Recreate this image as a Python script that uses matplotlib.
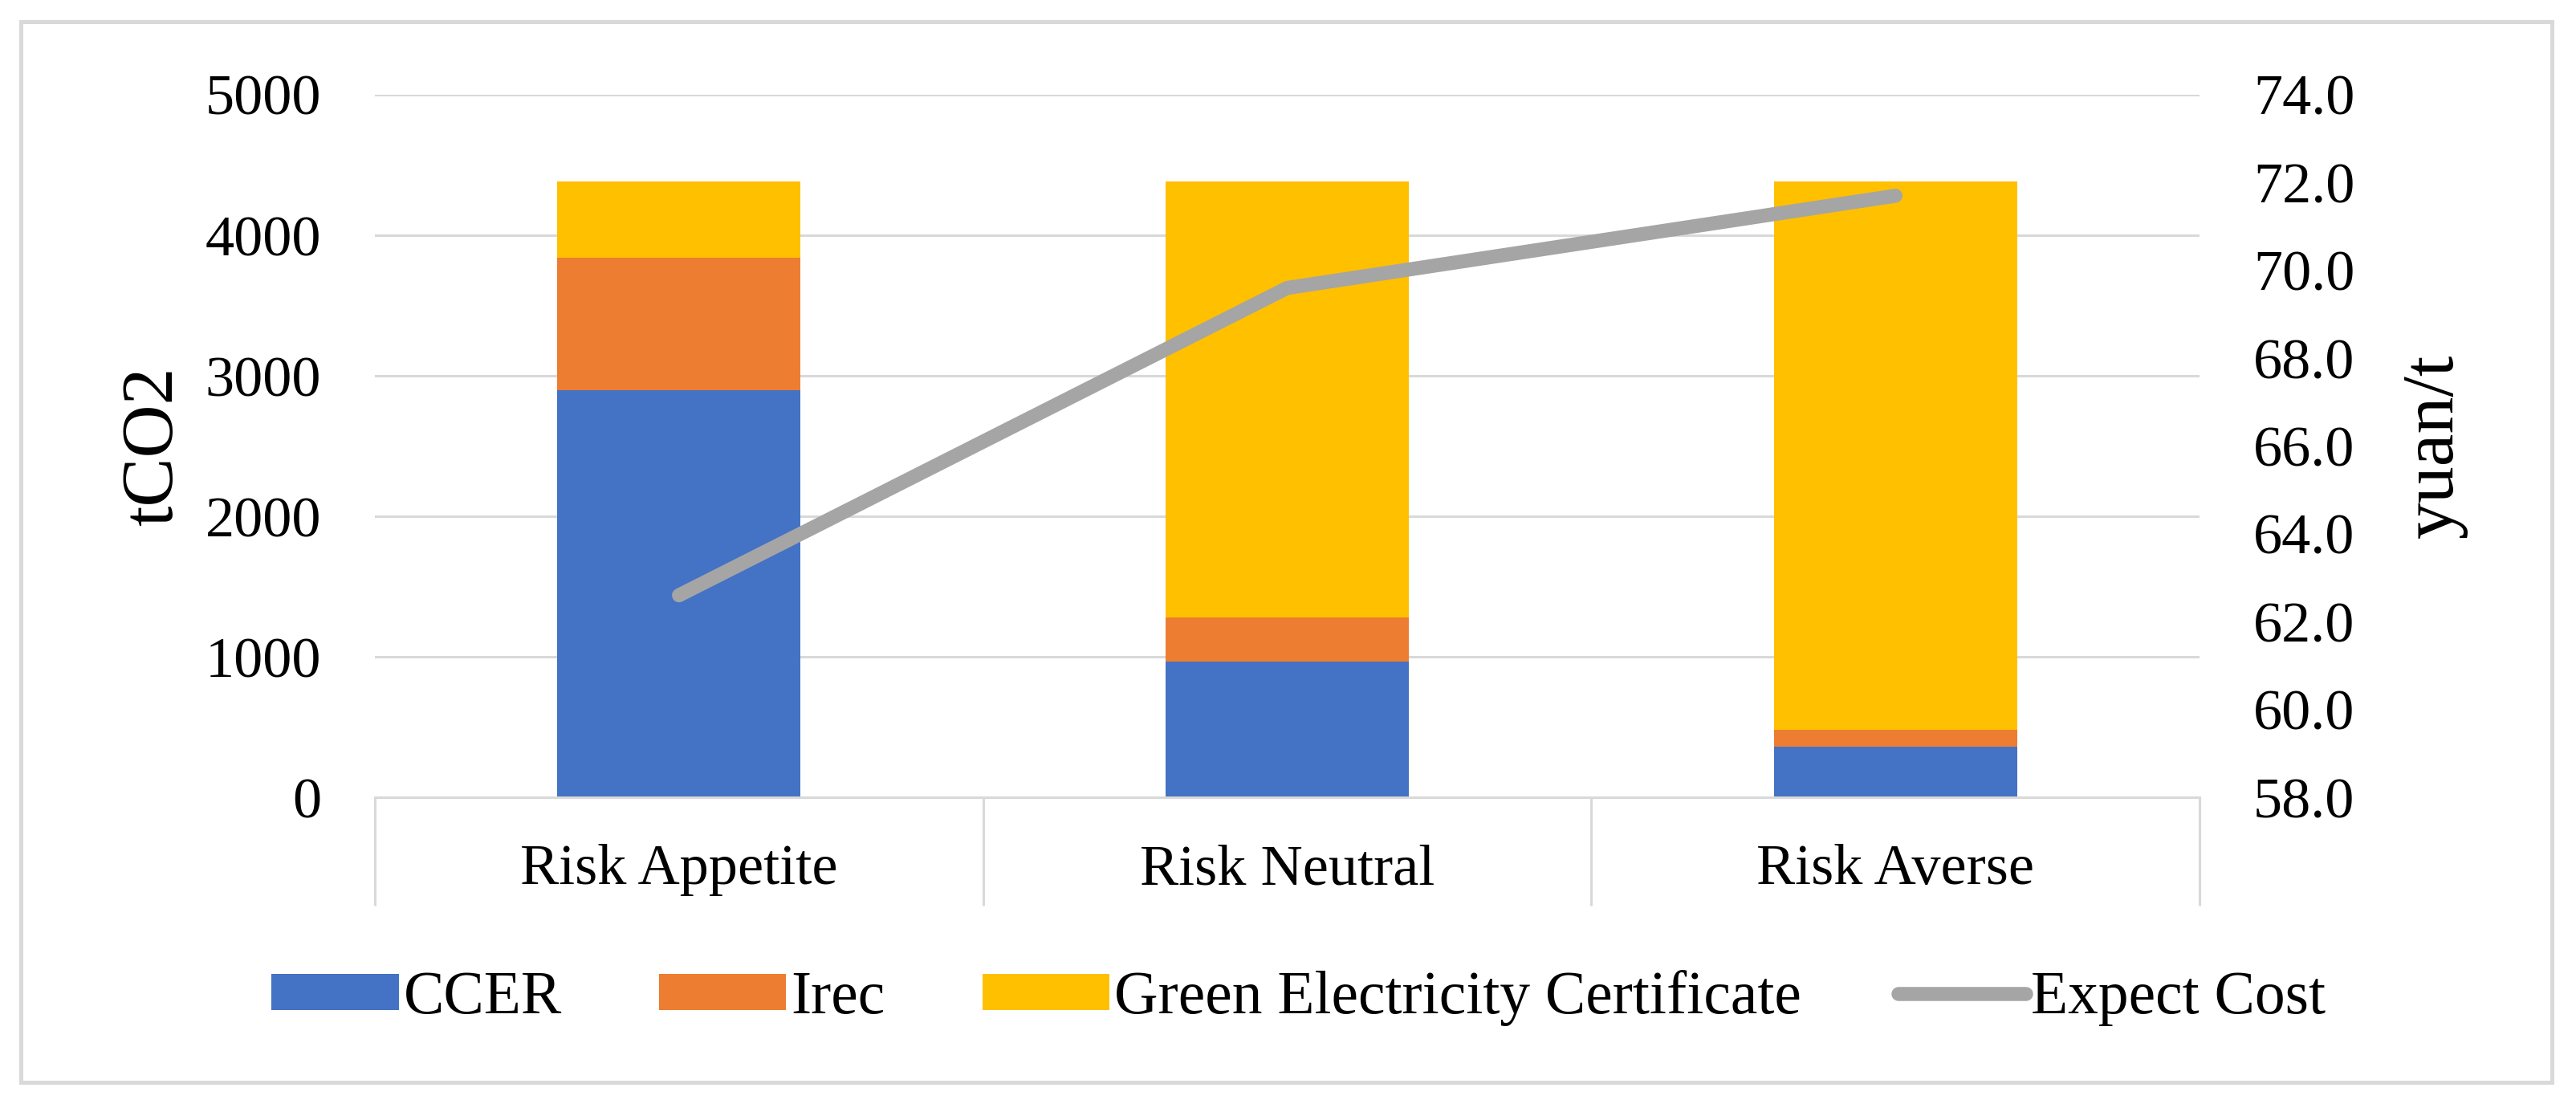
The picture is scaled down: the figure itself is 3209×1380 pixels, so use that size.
import numpy as np
import matplotlib
matplotlib.use("Agg")
import matplotlib.pyplot as plt
from matplotlib.patches import Rectangle
from matplotlib.ticker import FormatStrFormatter

# data
categories = ['Risk Appetite', 'Risk Neutral', 'Risk Averse']
ccer = [2900, 965, 360]
irec = [940, 315, 120]
gec = [543, 3103, 3903]
expect_cost = [62.6, 69.6, 71.7]

plt.rcParams['font.family'] = ['Liberation Serif', 'DejaVu Serif']
fs = 26
grid_c = '#D9D9D9'

fig = plt.figure(figsize=(16.045, 6.9), dpi=200)
ax = fig.add_axes([0.1455, 0.2804, 0.7084, 0.6341])

x = np.arange(len(categories))
w = 0.4
ax.bar(x, ccer, w, color='#4472C4', label='CCER', zorder=2)
ax.bar(x, irec, w, bottom=ccer, color='#ED7D31', label='Irec', zorder=2)
bot = np.array(ccer) + np.array(irec)
ax.bar(x, gec, w, bottom=bot, color='#FFC000', label='Green Electricity Certificate', zorder=2)

ax.set_xlim(-0.5, 2.5)
ax.set_ylim(0, 5000)
ax.set_yticks(range(0, 5001, 1000))
ax.yaxis.grid(True, color=grid_c, lw=1.1)
ax.set_axisbelow(True)
for s in ['top', 'left', 'right']:
    ax.spines[s].set_visible(False)
ax.spines['bottom'].set_color(grid_c)
ax.spines['bottom'].set_linewidth(1.1)

ax.set_xticks(x)
ax.set_xticklabels(categories, fontsize=fs)
ax.set_xticks([-0.5, 0.5, 1.5, 2.5], minor=True)
ax.tick_params(axis='x', which='major', length=0, pad=21)
ax.tick_params(axis='x', which='minor', length=48.6, width=1.1, color=grid_c)
ax.tick_params(axis='y', length=0, pad=24, labelsize=fs)
ax.set_ylabel('tCO2', fontsize=33, labelpad=8)

ax2 = ax.twinx()
ax2.plot(x, expect_cost, color='#A5A5A5', lw=6.3, solid_capstyle='round',
         solid_joinstyle='round', label='Expect Cost', zorder=3)
ax2.set_ylim(58, 74)
ax2.set_yticks(np.arange(58, 74.1, 2))
ax2.yaxis.set_major_formatter(FormatStrFormatter('%.1f'))
ax2.tick_params(axis='y', length=0, pad=24, labelsize=fs)
for s in ax2.spines.values():
    s.set_visible(False)
ax2.set_ylabel('yuan/t', fontsize=33, labelpad=21)

h1, l1 = ax.get_legend_handles_labels()
h2, l2 = ax2.get_legend_handles_labels()
fig.legend(h1 + h2, l1 + l2, loc='center', bbox_to_anchor=(0.504, 0.099), ncol=4,
           frameon=False, fontsize=27.2, handlelength=2.1, handleheight=0.55,
           handletextpad=0.08, columnspacing=1.6)

fig.patches.append(Rectangle((26 / 3209, 1 - 1348 / 1380), (3179 - 26) / 3209, (1348 - 27) / 1380,
                             transform=fig.transFigure, fill=False, edgecolor=grid_c, lw=1.8))

fig.savefig('out.png', dpi=200, facecolor='white')
